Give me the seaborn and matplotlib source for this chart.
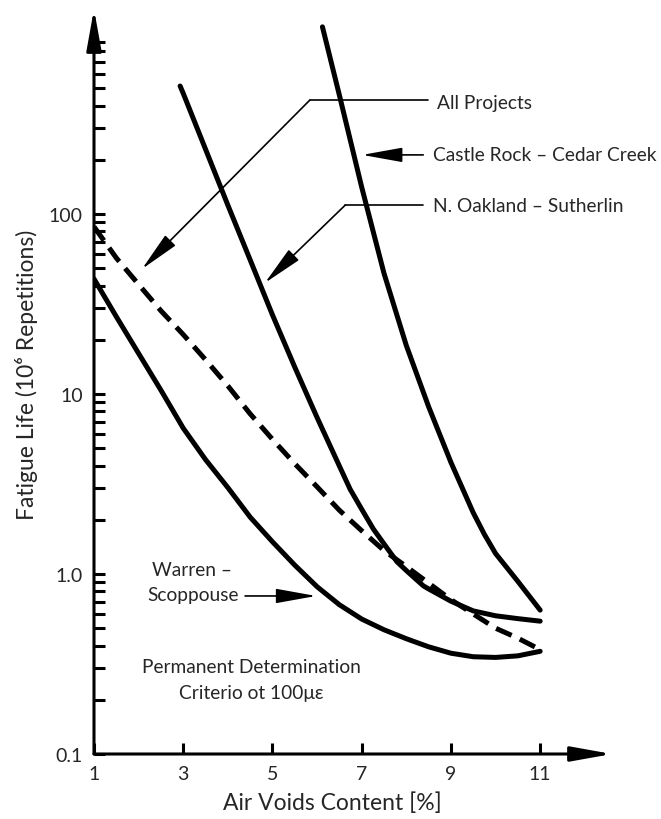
import numpy as np
import pandas as pd
import matplotlib
matplotlib.use("Agg")
import matplotlib.pyplot as plt
import seaborn as sns
from matplotlib.ticker import FixedLocator, NullFormatter, FixedFormatter

sns.set_style("white")
plt.rcParams["font.family"] = ["Lato", "DejaVu Sans"]

# ---------------- data ----------------
warren_x = [1, 1.5, 2, 2.5, 3, 3.5, 4, 4.5, 5, 5.5, 6, 6.5, 7, 7.5, 8, 8.5, 9, 9.5, 10, 10.5, 11]
warren_y = [43.6, 26.9, 16.8, 10.5, 6.46, 4.32, 3.02, 2.07, 1.51, 1.12, 0.85, 0.675, 0.562,
            0.49, 0.437, 0.394, 0.363, 0.347, 0.344, 0.351, 0.372]

allproj_x = [1, 1.5, 2, 2.5, 3, 3.5, 4, 4.5, 5, 5.5, 6, 6.5, 7, 7.5, 8, 8.5, 9, 9.5, 10, 10.5, 11]
allproj_y = [85, 57, 40.6, 29, 21.4, 15.5, 11.1, 7.76, 5.6, 4.1, 3.05, 2.26, 1.74, 1.35,
             1.1, 0.89, 0.72, 0.60, 0.50, 0.44, 0.38]

oakland_x = [2.93, 3, 3.5, 4, 4.5, 5, 5.5, 6, 6.5, 6.74, 7, 7.26, 7.5, 7.79, 8, 8.38, 8.5,
             9, 9.5, 10, 10.5, 11]
oakland_y = [514, 468, 229, 112, 55.6, 27.5, 14.1, 7.4, 3.98, 2.96, 2.29, 1.78, 1.47, 1.17,
             1.045, 0.86, 0.826, 0.706, 0.624, 0.586, 0.565, 0.547]

castle_x = [6.12, 6.5, 7, 7.5, 8, 8.5, 9, 9.5, 9.75, 10, 10.5, 11]
castle_y = [1096, 457, 141, 46.8, 18.6, 8.5, 4.17, 2.19, 1.66, 1.30, 0.91, 0.63]

x_ticks = [1, 3, 5, 7, 9, 11]
x_ticklabels = ["1", "3", "5", "7", "9", "11"]
y_ticks = [0.1, 1, 10, 100]
y_ticklabels = ["0.1", "1.0", "10", "100"]

# ---------------- figure ----------------
fig = plt.figure(figsize=(6.61, 8.20), dpi=100)
ax = fig.add_axes([94 / 661, 65 / 820, (612 - 94) / 661, (755 - 10) / 820])

LW = 3.6
solid_kw = dict(color="black", lw=LW, estimator=None, sort=False, legend=False)

sns.lineplot(x=warren_x, y=warren_y, ax=ax, **solid_kw)
sns.lineplot(x=oakland_x, y=oakland_y, ax=ax, **solid_kw)
sns.lineplot(x=castle_x, y=castle_y, ax=ax, **solid_kw)
l = sns.lineplot(x=allproj_x, y=allproj_y, ax=ax, **solid_kw)
l.lines[-1].set_dashes((3.4, 1.8))
for ln in ax.lines:
    ln.set_solid_joinstyle("round")

ax.set_yscale("log")
ax.set_xlim(1, 12.61)
ax.set_ylim(0.1, 1377)

for s in ax.spines.values():
    s.set_visible(False)

# axes with arrowheads
arrow_axis = dict(arrowstyle="-|>,head_length=2.5,head_width=0.45", lw=2.2,
                  color="black", shrinkA=0, shrinkB=0, mutation_scale=10)
ax.annotate("", xy=(0, 1), xytext=(0, 0), xycoords="axes fraction",
            textcoords="axes fraction", arrowprops=arrow_axis, annotation_clip=False)
ax.annotate("", xy=(1, 0), xytext=(0, 0), xycoords="axes fraction",
            textcoords="axes fraction", arrowprops=arrow_axis, annotation_clip=False)

# ticks
ax.xaxis.set_major_locator(FixedLocator(x_ticks))
ax.xaxis.set_major_formatter(FixedFormatter(x_ticklabels))
ax.xaxis.set_minor_locator(FixedLocator([]))
ax.yaxis.set_major_locator(FixedLocator(y_ticks))
ax.yaxis.set_major_formatter(FixedFormatter(y_ticklabels))
minor = [m * d for d in [0.1, 1, 10, 100] for m in range(2, 10)]
ax.yaxis.set_minor_locator(FixedLocator(minor))
ax.yaxis.set_minor_formatter(NullFormatter())
ax.tick_params(axis="both", which="both", direction="in", width=2.2, length=8,
               color="black", labelsize=14, pad=8, left=True, bottom=True,
               right=False, top=False)

ax.set_xlabel("Air Voids Content [%]", fontsize=16.5)
ax.xaxis.set_label_coords(0.461, -0.050)
ax.set_ylabel("Fatigue Life (10\u2076 Repetitions)", fontsize=16.5)
ax.yaxis.set_label_coords(-0.108, 0.51)

# annotations
ann_fs = 13.8
arrow_ann = dict(arrowstyle="-|>,head_length=2.5,head_width=0.45", lw=1.2,
                 color="black", shrinkA=0, shrinkB=0, mutation_scale=10)

ax.text(8.69, 419, "All Projects", fontsize=ann_fs, ha="left", va="center")
ax.plot([8.49, 5.84], [430, 430], color="black", lw=1.2)
ax.annotate("", xy=(2.076, 49.5), xytext=(5.84, 430), arrowprops=arrow_ann)

ax.text(8.60, 213, "Castle Rock \u2013 Cedar Creek", fontsize=ann_fs, ha="left", va="center")
ax.annotate("", xy=(7.01, 213), xytext=(8.38, 213), arrowprops=arrow_ann)

ax.text(8.60, 112, "N. Oakland \u2013 Sutherlin", fontsize=ann_fs, ha="left", va="center")
ax.plot([8.38, 6.63], [112, 112], color="black", lw=1.2)
ax.annotate("", xy=(4.83, 41.4), xytext=(6.63, 112), arrowprops=arrow_ann)

ax.text(3.20, 1.066, "Warren \u2013", fontsize=ann_fs, ha="center", va="center")
ax.text(3.22, 0.774, "Scoppouse", fontsize=ann_fs, ha="center", va="center")
ax.annotate("", xy=(5.978, 0.755), xytext=(4.386, 0.755), arrowprops=arrow_ann)

ax.text(4.52, 0.308, "Permanent Determination", fontsize=ann_fs, ha="center", va="center")
ax.text(4.52, 0.221, "Criterio ot 100\u03bc\u03b5", fontsize=ann_fs, ha="center", va="center")

fig.savefig("out.png", dpi=100, facecolor="white")
